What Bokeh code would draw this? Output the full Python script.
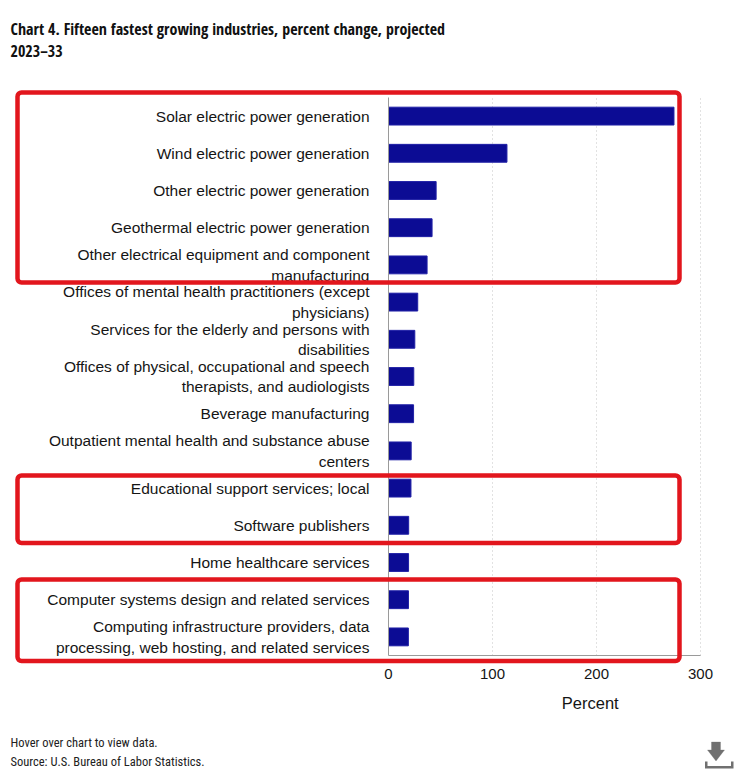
from bokeh.plotting import figure
from bokeh.models import (ColumnDataSource, Range1d, FixedTicker,
                          Label, BoxAnnotation, PolyAnnotation)
from bokeh.embed import file_html
from bokeh.resources import INLINE

# Fifteen fastest growing industries, projected percent change 2023-33
industries = [
    "Solar electric power generation",
    "Wind electric power generation",
    "Other electric power generation",
    "Geothermal electric power generation",
    "Other electrical equipment and component\nmanufacturing",
    "Offices of mental health practitioners (except\nphysicians)",
    "Services for the elderly and persons with\ndisabilities",
    "Offices of physical, occupational and speech\ntherapists, and audiologists",
    "Beverage manufacturing",
    "Outpatient mental health and substance abuse\ncenters",
    "Educational support services; local",
    "Software publishers",
    "Home healthcare services",
    "Computer systems design and related services",
    "Computing infrastructure providers, data\nprocessing, web hosting, and related services",
]
percent_change = [274.5, 113.9, 45.8, 41.9, 37.1, 28.1, 25.3, 24.3, 24.1,
                  21.8, 21.6, 19.4, 19.3, 19.2, 19.1]
x_ticks = [0, 100, 200, 300]

title_lines = ["Chart 4. Fifteen fastest growing industries, percent change, projected",
               "2023\u201333"]
notes = ["Hover over chart to view data.",
         "Source: U.S. Bureau of Labor Statistics."]
x_title = "Percent"

BAR = "#0c0c94"
RED = "#e2161d"
LABEL_FONT = "Liberation Sans"
TITLE_FONT = "Open Sans Condensed"
NOTE_FONT = "Roboto Condensed"

# one slot per industry, first industry at the top
n = len(industries)
slots = [n - i for i in range(n)]
source = ColumnDataSource(dict(slot=slots, industry=industries, pct=percent_change))

# page geometry (pixels)
W, H = 752, 778
plot_left, plot_right = 388, 700
plot_top, plot_bottom = 97, 655
px_x = (plot_right - plot_left) / (x_ticks[-1] - x_ticks[0])
px_y = (plot_bottom - plot_top) / n

x_lo = x_ticks[0] - plot_left / px_x
x_hi = x_ticks[-1] + (W - plot_right) / px_x
y_hi = n + 0.5 + plot_top / px_y
y_lo = 0.5 - (H - plot_bottom) / px_y

p = figure(width=W, height=H,
           x_range=Range1d(x_lo, x_hi), y_range=Range1d(y_lo, y_hi),
           output_backend="svg", toolbar_location=None,
           min_border=0)
p.outline_line_color = None
p.background_fill_color = "white"
p.border_fill_color = "white"

p.hbar(y="slot", left=0, right="pct", height=0.48, source=source,
       fill_color=BAR, line_color="#2020a6", line_width=1)

# x axis, pinned to the bottom of the category band
xa = p.xaxis[0]
xa.fixed_location = 0.5
xa.bounds = (x_ticks[0], x_ticks[-1])
xa.ticker = FixedTicker(ticks=x_ticks)
xa.axis_line_color = "#9a9a9a"
xa.major_tick_line_color = None
xa.major_tick_out = 0
xa.major_tick_in = 0
xa.minor_tick_line_color = None
xa.major_label_text_font = LABEL_FONT
xa.major_label_text_font_size = "15px"
xa.major_label_text_color = "#151515"
xa.major_label_standoff = 13

# y axis, pinned at zero percent, one label per industry
ya = p.yaxis[0]
ya.fixed_location = 0
ya.bounds = (0.5, n + 0.5)
ya.ticker = FixedTicker(ticks=slots)
ya.major_label_overrides = {s: name for s, name in zip(slots, industries)}
ya.axis_line_color = "#9a9a9a"
ya.major_tick_line_color = None
ya.major_tick_out = 0
ya.major_tick_in = 0
ya.minor_tick_line_color = None
ya.major_label_text_font = LABEL_FONT
ya.major_label_text_font_size = "15.5px"
ya.major_label_text_color = "#151515"
ya.major_label_standoff = 19

p.xgrid.ticker = FixedTicker(ticks=x_ticks[1:])
p.xgrid.grid_line_color = "#c4c4c4"
p.xgrid.grid_line_dash = "1 3"
p.xgrid.cross_bounds = (0.5, n + 0.5)
p.ygrid.grid_line_color = None

# axis title
p.add_layout(Label(x=194, x_units="data", y=702, y_units="canvas",
                   text=x_title, text_font=LABEL_FONT, text_font_size="16.5px",
                   text_align="center", text_baseline="middle",
                   text_color="#151515"))

# chart title
for i, line in enumerate(title_lines):
    p.add_layout(Label(x=10, y=28 + 22 * i, x_units="canvas", y_units="canvas",
                       text=line, text_font=TITLE_FONT, text_font_style="bold",
                       text_font_size="16px", text_baseline="alphabetic",
                       text_color="#111111"))

# footer notes
for i, line in enumerate(notes):
    p.add_layout(Label(x=10, y=742 + 19 * i, x_units="canvas", y_units="canvas",
                       text=line, text_font=NOTE_FONT, text_font_size="12.5px",
                       text_baseline="middle", text_color="#222222"))

# highlight frames around groups of industries (top, bottom in pixels)
highlight_frames = [(92, 282), (475, 542.5), (579, 660.5)]
for top, bottom in highlight_frames:
    p.add_layout(BoxAnnotation(
        left=17, right=679, top=top, bottom=bottom,
        left_units="canvas", right_units="canvas",
        top_units="canvas", bottom_units="canvas",
        fill_alpha=0, line_color=RED, line_alpha=1, line_width=4.5,
        border_radius=4))

# download icon
p.add_layout(PolyAnnotation(
    xs=[711, 720, 720, 724, 715.5, 707, 711],
    ys=[741.5, 741.5, 749.5, 749.5, 760.5, 749.5, 749.5],
    xs_units="canvas", ys_units="canvas",
    fill_color="#707070", fill_alpha=1, line_color="#707070", line_width=1))
p.add_layout(PolyAnnotation(
    xs=[704.5, 707, 707, 730.5, 730.5, 733, 733, 704.5],
    ys=[761, 761, 765.5, 765.5, 761, 761, 768, 768],
    xs_units="canvas", ys_units="canvas",
    fill_color="#707070", fill_alpha=1, line_color=None))

open("out.html", "w").write(file_html(p, INLINE))
